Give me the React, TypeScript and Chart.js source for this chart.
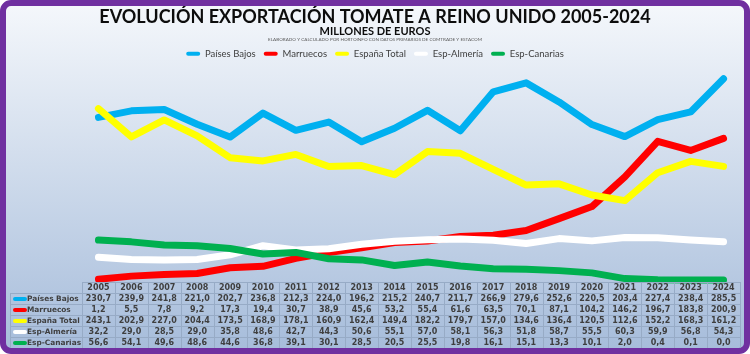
import React, { useEffect, useRef } from 'react';
import { Chart, registerables } from 'chart.js';

Chart.register(...registerables);

const years = ['2005','2006','2007','2008','2009','2010','2011','2012','2013','2014','2015','2016','2017','2018','2019','2020','2021','2022','2023','2024'];
const paisesBajos = [230.7,239.9,241.8,221.0,202.7,236.8,212.3,224.0,196.2,215.2,240.7,211.7,266.9,279.6,252.6,220.5,203.4,227.4,238.4,285.5];
const marruecos = [1.2,5.5,7.8,9.2,17.3,19.4,30.7,38.9,45.6,53.2,55.4,61.6,63.5,70.1,87.1,104.2,146.2,196.7,183.8,200.9];
const espanaTotal = [243.1,202.9,227.0,204.4,173.5,168.9,178.1,160.9,162.4,149.4,182.2,179.7,157.0,134.6,136.4,120.5,112.6,152.2,168.3,161.2];
const espAlmeria = [32.2,29.0,28.5,29.0,35.8,48.6,42.7,44.3,50.6,55.1,57.0,58.1,56.3,51.8,58.7,55.5,60.3,59.9,56.8,54.3];
const espCanarias = [56.6,54.1,49.6,48.6,44.6,36.8,39.1,30.1,28.5,20.5,25.5,19.8,16.1,15.1,13.3,10.1,2.0,0.4,0.1,0.0];

const seriesLabels = ['Países Bajos','Marruecos','España Total','Esp-Almería','Esp-Canarias'];
const seriesColors = ['#00b0f0','#ff0000','#ffff00','#ffffff','#00b050'];
const seriesValues = [paisesBajos, marruecos, espanaTotal, espAlmeria, espCanarias];

const titleText = 'EVOLUCIÓN EXPORTACIÓN TOMATE A REINO UNIDO 2005-2024';
const subtitleText = 'MILLONES DE EUROS';
const noteText = 'ELABORADO Y CALCULADO POR HORTOINFO CON DATOS PRIMARIOS DE COMTRADE Y ESTACOM';

const fmt = (v: number) => v.toFixed(1).replace('.', ',');

const extrasPlugin = {
  id: 'extras',
  afterDraw(chart: any) {
    const ctx = chart.ctx as CanvasRenderingContext2D;
    const xs = chart.scales.x;
    const area = chart.chartArea;
    ctx.save();
    // note line
    ctx.fillStyle = '#595959';
    ctx.font = '4.6px Lato';
    ctx.textAlign = 'center';
    ctx.textBaseline = 'middle';
    ctx.fillText(noteText, 375, 40);

    // data table
    const n = years.length;
    const colW = xs.width / n;
    const gridLeft = xs.left;
    const gridRight = xs.right;
    const tableLeft = 10;
    const top = area.bottom + 2;
    const rowH = 11;
    const rows = seriesValues.length + 1;
    const bottom = top + rows * rowH;
    ctx.strokeStyle = '#97abc6';
    ctx.lineWidth = 1;
    ctx.beginPath();
    ctx.moveTo(gridLeft, top + 0.5);
    ctx.lineTo(gridRight, top + 0.5);
    for (let r = 1; r <= rows; r++) {
      const y = Math.round(top + r * rowH) + 0.5;
      ctx.moveTo(tableLeft, y);
      ctx.lineTo(gridRight, y);
    }
    for (let c = 0; c <= n; c++) {
      const x = Math.round(gridLeft + c * colW) + 0.5;
      ctx.moveTo(x, top);
      ctx.lineTo(x, bottom);
    }
    ctx.moveTo(tableLeft + 0.5, top + rowH);
    ctx.lineTo(tableLeft + 0.5, bottom);
    ctx.stroke();

    ctx.fillStyle = '#3f3f3f';
    ctx.font = 'bold 8px "DejaVu Sans"';
    ctx.textAlign = 'center';
    ctx.textBaseline = 'middle';
    years.forEach((yr, i) => {
      ctx.fillText(yr, xs.getPixelForValue(i), top + rowH / 2 + 0.5);
    });
    seriesValues.forEach((vals, r) => {
      const cy = top + (r + 1) * rowH + rowH / 2 + 0.5;
      ctx.textAlign = 'center';
      ctx.fillStyle = '#3f3f3f';
      ctx.font = 'bold 8px "DejaVu Sans"';
      vals.forEach((v, i) => {
        ctx.fillText(fmt(v), xs.getPixelForValue(i), cy);
      });
      ctx.fillStyle = seriesColors[r];
      ctx.beginPath();
      ctx.roundRect(13, cy - 2, 14, 4, 2);
      ctx.fill();
      ctx.fillStyle = '#3f3f3f';
      ctx.textAlign = 'left';
      ctx.font = 'bold 7.4px "DejaVu Sans"';
      ctx.fillText(seriesLabels[r], 27, cy);
    });
    ctx.restore();
  },
};

export default function App() {
  const ref = useRef<HTMLCanvasElement>(null);
  useEffect(() => {
    document.body.style.margin = '0';
    const chart = new Chart(ref.current as HTMLCanvasElement, {
      type: 'line',
      data: {
        labels: years,
        datasets: seriesValues.map((vals, i) => ({
          label: seriesLabels[i],
          data: vals,
          borderColor: seriesColors[i],
          backgroundColor: seriesColors[i],
          borderWidth: 7,
          pointRadius: 0,
          tension: 0,
          borderJoinStyle: 'round' as const,
          borderCapStyle: 'round' as const,
          order: seriesValues.length - i,
          clip: false as any,
        })),
      },
      options: {
        responsive: false,
        animation: false,
        layout: { padding: { top: 6, left: 10, right: 10, bottom: 74 } },
        scales: {
          x: { display: false, offset: true },
          y: {
            display: true,
            min: 0,
            max: 300,
            grid: { display: false },
            border: { display: false },
            ticks: { display: false },
            afterFit: (scale: any) => { scale.width = 72; },
          },
        },
        plugins: {
          title: {
            display: true,
            text: titleText,
            color: '#0d0d0d',
            font: { family: 'Lato', size: 18, weight: 'bold', lineHeight: 1.0 },
            padding: { top: 2, bottom: 0 },
          },
          subtitle: {
            display: true,
            text: subtitleText,
            color: '#0d0d0d',
            font: { family: 'Lato', size: 11, weight: 'bold', lineHeight: 1.0 },
            padding: { top: 0, bottom: 4 },
          },
          legend: {
            display: true,
            position: 'top',
            labels: {
              font: { family: 'Lato', size: 9.5 },
              color: '#404040',
              boxWidth: 14,
              boxHeight: 4,
              padding: 8,
              useBorderRadius: true,
              borderRadius: 2,
              sort: (a: any, b: any) => a.datasetIndex - b.datasetIndex,
              generateLabels: (c: any) => c.data.datasets.map((ds: any, i: number) => ({
                text: ds.label,
                fillStyle: ds.borderColor,
                strokeStyle: ds.borderColor,
                lineWidth: 0,
                hidden: false,
                datasetIndex: i,
                fontColor: '#404040',
                borderRadius: 2,
              })),
            },
          },
          tooltip: { enabled: false },
        },
      },
      plugins: [extrasPlugin],
    });
    return () => chart.destroy();
  }, []);
  return (
    <div
      style={{
        position: 'relative',
        width: 750,
        height: 354,
        boxSizing: 'border-box',
        border: '6px solid #7030a0',
        borderRadius: 11,
        background: 'linear-gradient(#f4f7fb, #a7bddb)',
        overflow: 'hidden',
      }}
    >
      <canvas
        ref={ref}
        width={750}
        height={354}
        style={{ position: 'absolute', left: -6, top: -6, width: 750, height: 354 }}
      />
    </div>
  );
}
